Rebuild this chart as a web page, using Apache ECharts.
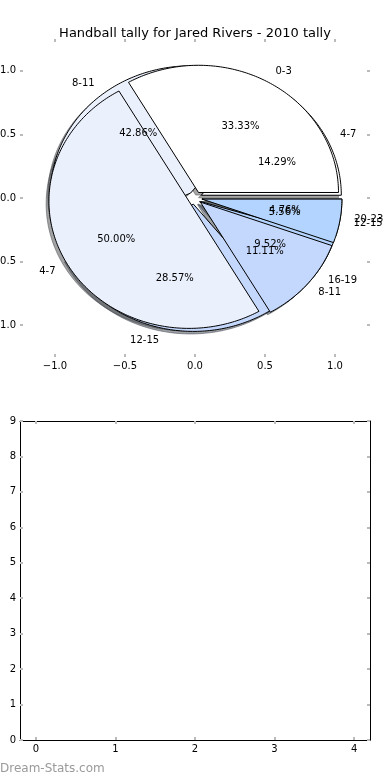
<!DOCTYPE html>
<html>
<head>
<meta charset="utf-8">
<script src="https://cdn.jsdelivr.net/npm/echarts@6/dist/echarts.min.js"></script>
<style>
html,body{margin:0;padding:0;background:#fff;}
#chart{width:390px;height:780px;}
</style>
</head>
<body>
<div id="chart"></div>
<script>
// ---- data ----
const chartTitle = 'Handball tally for Jared Rivers - 2010 tally';
const watermark = 'Dream-Stats.com';
const pieALabels = ['0-3', '4-7', '8-11', '12-15'];
const pieAValues = [6, 9, 2, 1];
const pieBLabels = ['4-7', '8-11', '12-15', '16-19', '20-23'];
const pieBValues = [3, 9, 6, 2, 1];
const sliceColors = ['#ffffff', '#eaf0fc', '#c4d7fc', '#b3d4fe', '#ffffff'];
const pieTicks = [-1, -0.5, 0, 0.5, 1];
const lowerXTicks = [0, 1, 2, 3, 4];

// ---- style constants ----
const EXPLODE = 0.05;
const FONT = 'DejaVu Sans';
const TICK_COLOR = '#bbbbbb';

function geom(values, i) {
  const total = values.reduce((a, b) => a + b, 0);
  let before = 0;
  for (let k = 0; k < i; k++) before += values[k];
  const t1 = before / total * 360;
  const t2 = (before + values[i]) / total * 360;
  const tm = (t1 + t2) / 2 * Math.PI / 180;
  const cx = EXPLODE * Math.cos(tm);
  const cy = EXPLODE * Math.sin(tm);
  return { t1, t2, tm, cx, cy, pct: values[i] / total * 100 };
}

function wedgePoints(g, dx, dy, api) {
  const pts = [api.coord([g.cx + dx, g.cy + dy])];
  const steps = Math.max(2, Math.ceil(g.t2 - g.t1));
  for (let s = 0; s <= steps; s++) {
    const a = (g.t1 + (g.t2 - g.t1) * s / steps) * Math.PI / 180;
    pts.push(api.coord([g.cx + dx + Math.cos(a), g.cy + dy + Math.sin(a)]));
  }
  return pts;
}

function hexToRgb(h) {
  const n = parseInt(h.slice(1), 16);
  return [(n >> 16) & 255, (n >> 8) & 255, n & 255];
}

function makeRender(values, labels, layer) {
  return function (params, api) {
    const i = params.dataIndex;
    const g = geom(values, i);
    const color = sliceColors[i % sliceColors.length];
    if (layer === 'shadow') {
      const c = hexToRgb(color).map(v => Math.round(v * 0.3));
      return {
        type: 'polygon',
        shape: { points: wedgePoints(g, -0.02, -0.02, api) },
        style: { fill: 'rgba(' + c.join(',') + ',0.5)', stroke: 'rgba(' + c.join(',') + ',0.5)', lineWidth: 1 }
      };
    }
    if (layer === 'wedge') {
      return {
        type: 'polygon',
        shape: { points: wedgePoints(g, 0, 0, api) },
        style: { fill: color, stroke: '#000', lineWidth: 1 }
      };
    }
    const lx = g.cx + 1.1 * Math.cos(g.tm);
    const ly = g.cy + 1.1 * Math.sin(g.tm);
    const px = g.cx + 0.6 * Math.cos(g.tm);
    const py = g.cy + 0.6 * Math.sin(g.tm);
    const lp = api.coord([lx, ly]);
    const pp = api.coord([px, py]);
    const al = lx > 0 ? 'left' : 'right';
    return {
      type: 'group',
      children: [
        { type: 'text', x: lp[0], y: lp[1],
          style: { text: labels[i], fill: '#000', font: '10px "' + FONT + '"',
                   align: al, verticalAlign: 'middle', textAlign: al, textVerticalAlign: 'middle' } },
        { type: 'text', x: pp[0], y: pp[1],
          style: { text: g.pct.toFixed(2) + '%', fill: '#000', font: '10px "' + FONT + '"',
                   align: 'center', verticalAlign: 'middle', textAlign: 'center', textVerticalAlign: 'middle' } }
      ]
    };
  };
}

const fmt1 = v => (v < 0 ? '\u2212' : '') + Math.abs(v).toFixed(1);

function axisBase(extra) {
  return Object.assign({
    type: 'value',
    splitLine: { show: false },
    axisLine: { show: false, onZero: false },
    axisTick: { show: true, inside: true, length: 3, lineStyle: { color: TICK_COLOR, width: 2 } },
    axisLabel: { show: false }
  }, extra);
}

const labelStyle = { color: '#000', fontSize: 10, fontFamily: FONT };

const option = {
  animation: false,
  backgroundColor: '#fff',
  title: {
    text: chartTitle, left: 'center', top: 22,
    textStyle: { fontFamily: FONT, fontSize: 13, fontWeight: 'normal', color: '#000' }
  },
  graphic: [{
    type: 'text', left: 0, top: 763,
    style: { text: watermark, fill: '#9a9a9a', font: '12px "' + FONT + '"' }
  }],
  grid: [
    { left: 20, right: 20, top: 39, bottom: 423, containLabel: false, outerBoundsMode: 'none' },
    { left: 20, right: 20, top: 421, bottom: 40, containLabel: false, outerBoundsMode: 'none' }
  ],
  xAxis: [
    axisBase({ gridIndex: 0, position: 'bottom', min: -1.25, max: 1.25,
      axisTick: { show: true, inside: true, length: 3, customValues: pieTicks, lineStyle: { color: TICK_COLOR, width: 2 } },
      axisLabel: Object.assign({ show: true, customValues: pieTicks, formatter: fmt1, margin: 4 }, labelStyle) }),
    axisBase({ gridIndex: 0, position: 'top', min: -1.25, max: 1.25,
      axisTick: { show: true, inside: true, length: 3, customValues: pieTicks, lineStyle: { color: TICK_COLOR, width: 2 } } }),
    axisBase({ gridIndex: 1, position: 'bottom', min: -0.2, max: 4.2,
      axisLine: { show: true, onZero: false, lineStyle: { color: '#000', width: 1 } },
      axisTick: { show: true, inside: true, length: 3, customValues: lowerXTicks, lineStyle: { color: TICK_COLOR, width: 2 } },
      axisLabel: Object.assign({ show: true, customValues: lowerXTicks, margin: 4 }, labelStyle) }),
    axisBase({ gridIndex: 1, position: 'top', min: -0.2, max: 4.2,
      axisLine: { show: true, onZero: false, lineStyle: { color: '#000', width: 1 } },
      axisTick: { show: true, inside: true, length: 3, customValues: lowerXTicks, lineStyle: { color: TICK_COLOR, width: 2 } } })
  ],
  yAxis: [
    axisBase({ gridIndex: 0, position: 'left', min: -1.25, max: 1.25,
      axisTick: { show: true, inside: true, length: 3, customValues: pieTicks, lineStyle: { color: TICK_COLOR, width: 2 } },
      axisLabel: Object.assign({ show: true, customValues: pieTicks, formatter: fmt1, margin: 4 }, labelStyle) }),
    axisBase({ gridIndex: 0, position: 'right', min: -1.25, max: 1.25,
      axisTick: { show: true, inside: true, length: 3, customValues: pieTicks, lineStyle: { color: TICK_COLOR, width: 2 } } }),
    axisBase({ gridIndex: 1, position: 'left', min: 0, max: 9, interval: 1,
      axisLine: { show: true, onZero: false, lineStyle: { color: '#000', width: 1 } },
      axisTick: { show: true, inside: true, length: 3, lineStyle: { color: TICK_COLOR, width: 2 } },
      axisLabel: Object.assign({ show: true, margin: 4 }, labelStyle) }),
    axisBase({ gridIndex: 1, position: 'right', min: 0, max: 9, interval: 1,
      axisLine: { show: true, onZero: false, lineStyle: { color: '#000', width: 1 } },
      axisTick: { show: true, inside: true, length: 3, lineStyle: { color: TICK_COLOR, width: 2 } } })
  ],
  series: [
    { type: 'custom', name: 'shadowB', xAxisIndex: 0, yAxisIndex: 0, z: 1, silent: true,
      data: pieBValues, renderItem: makeRender(pieBValues, pieBLabels, 'shadow') },
    { type: 'custom', name: 'shadowA', xAxisIndex: 0, yAxisIndex: 0, z: 1, silent: true,
      data: pieAValues, renderItem: makeRender(pieAValues, pieALabels, 'shadow') },
    { type: 'custom', name: 'pieB', xAxisIndex: 0, yAxisIndex: 0, z: 2, silent: true,
      data: pieBValues, renderItem: makeRender(pieBValues, pieBLabels, 'wedge') },
    { type: 'custom', name: 'pieA', xAxisIndex: 0, yAxisIndex: 0, z: 3, silent: true,
      data: pieAValues, renderItem: makeRender(pieAValues, pieALabels, 'wedge') },
    { type: 'custom', name: 'labelsB', xAxisIndex: 0, yAxisIndex: 0, z: 4, silent: true,
      data: pieBValues, renderItem: makeRender(pieBValues, pieBLabels, 'text') },
    { type: 'custom', name: 'labelsA', xAxisIndex: 0, yAxisIndex: 0, z: 4, silent: true,
      data: pieAValues, renderItem: makeRender(pieAValues, pieALabels, 'text') }
  ]
};

const chart = echarts.init(document.getElementById('chart'), null, { renderer: 'canvas' });
chart.setOption(option);
</script>
</body>
</html>
